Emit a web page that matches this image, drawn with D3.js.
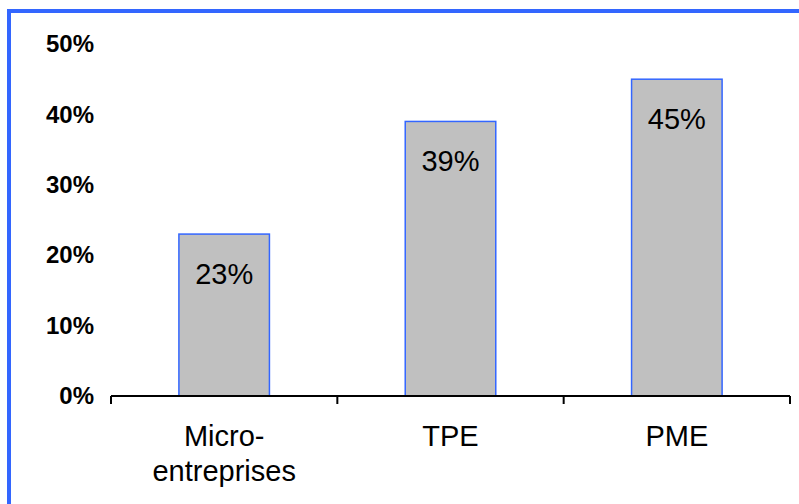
<!DOCTYPE html>
<html>
<head>
<meta charset="utf-8">
<script src="https://cdn.jsdelivr.net/npm/d3@7"></script>
<style>
  html, body { margin: 0; padding: 0; background: #ffffff; }
  svg { display: block; }
</style>
</head>
<body>
<svg id="chart" width="799" height="504"></svg>
<script>
const categories = [["Micro-", "entreprises"], ["TPE"], ["PME"]];
const categoryKeys = ["Micro-entreprises", "TPE", "PME"];
const values = [0.23, 0.39, 0.45];
const yTicks = [0, 0.1, 0.2, 0.3, 0.4, 0.5];

const W = 799, H = 504;
const svg = d3.select("#chart");
const font = "'Liberation Sans', Arial, Helvetica, sans-serif";
const blue = "#3366FF";

// frame border (top + left visible)
svg.append("path")
  .attr("d", `M9,${H + 5} L9,11 L${W + 5},11`)
  .attr("fill", "none")
  .attr("stroke", blue)
  .attr("stroke-width", 4);

const x0 = 111, x1 = 790, yBase = 396, yTop = 44;

const xOuter = d3.scaleBand().domain(categoryKeys).range([x0, x1]).padding(0);
const xBar = d3.scaleBand().domain(categoryKeys).range([x0, x1]).paddingInner(0.6).paddingOuter(0.3);
const y = d3.scaleLinear().domain([0, 0.5]).range([yBase, yTop]);

// y axis labels
const yAxis = d3.axisLeft(y).tickValues(yTicks).tickFormat(d3.format(".0%")).tickSize(0).tickPadding(17);
const gy = svg.append("g").attr("transform", `translate(${x0},0)`).call(yAxis);
gy.select(".domain").remove();
gy.selectAll("text")
  .attr("font-family", font)
  .attr("font-size", 24)
  .attr("font-weight", "bold")
  .attr("fill", "#000");

// bars
svg.append("g").selectAll("rect")
  .data(categoryKeys)
  .join("rect")
  .attr("x", d => xBar(d))
  .attr("y", (d, i) => y(values[i]))
  .attr("width", xBar.bandwidth())
  .attr("height", (d, i) => yBase - y(values[i]))
  .attr("fill", "#C0C0C0")
  .attr("stroke", blue)
  .attr("stroke-width", 1.5);

// x axis line and ticks
const gx = svg.append("g");
gx.append("line")
  .attr("x1", xOuter.range()[0]).attr("x2", xOuter.range()[1])
  .attr("y1", yBase).attr("y2", yBase)
  .attr("stroke", "#000").attr("stroke-width", 2);
const tickXs = categoryKeys.map(d => xOuter(d)).concat([xOuter.range()[1]]);
gx.selectAll("line.tick")
  .data(tickXs)
  .join("line")
  .attr("class", "tick")
  .attr("x1", d => d).attr("x2", d => d)
  .attr("y1", yBase).attr("y2", yBase + 8)
  .attr("stroke", "#000").attr("stroke-width", 2);

// category labels
const catG = svg.append("g");
categoryKeys.forEach((k, i) => {
  const t = catG.append("text")
    .attr("x", xOuter(k) + xOuter.bandwidth() / 2)
    .attr("y", 446)
    .attr("text-anchor", "middle")
    .attr("font-family", font)
    .attr("font-size", 29)
    .attr("fill", "#000");
  categories[i].forEach((line, j) => {
    t.append("tspan")
      .attr("x", xOuter(k) + xOuter.bandwidth() / 2)
      .attr("dy", j === 0 ? 0 : 35)
      .text(line);
  });
});

// data labels
svg.append("g").selectAll("text")
  .data(categoryKeys)
  .join("text")
  .attr("x", d => xBar(d) + xBar.bandwidth() / 2)
  .attr("y", (d, i) => y(values[i]) + 50)
  .attr("text-anchor", "middle")
  .attr("font-family", font)
  .attr("font-size", 29)
  .attr("fill", "#000")
  .text((d, i) => d3.format(".0%")(values[i]));
</script>
</body>
</html>
